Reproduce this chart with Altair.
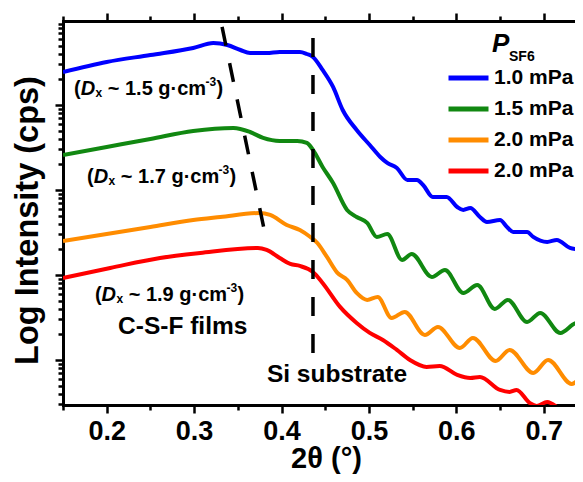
import altair as alt
import pandas as pd

# ---------------- data ----------------
SERIES_KEYS = ["p10", "p15", "p20a", "p20b"]
SERIES_LABELS = ["1.0 mPa", "1.5 mPa", "2.0 mPa", "2.0 mPa"]
SERIES_COLORS = ["#0000FF", "#118811", "#FF8C00", "#FF0000"]

BLUE_2THETA = [0.150, 0.200, 0.250, 0.299, 0.322, 0.338, 0.353, 0.364, 0.383, 0.398, 0.413,
               0.421, 0.429, 0.436, 0.447, 0.459, 0.470, 0.486, 0.501, 0.513, 0.521, 0.532,
               0.544, 0.555, 0.562, 0.573, 0.589, 0.601, 0.608, 0.616, 0.627, 0.635, 0.650,
               0.658, 0.665, 0.681, 0.688, 0.704, 0.715, 0.730, 0.745]
BLUE_LOGI = [4.388, 4.506, 4.588, 4.671, 4.729, 4.706, 4.647, 4.612, 4.612, 4.624, 4.624,
             4.624, 4.600, 4.565, 4.412, 4.212, 3.941, 3.706, 3.529, 3.388, 3.318, 3.259,
             3.118, 3.118, 3.059, 2.918, 2.918, 2.800, 2.765, 2.788, 2.682, 2.624, 2.647,
             2.565, 2.506, 2.506, 2.447, 2.388, 2.412, 2.318, 2.294]

GREEN_2THETA = [0.150, 0.200, 0.250, 0.299, 0.345, 0.364, 0.379, 0.398, 0.418, 0.429, 0.436,
                0.447, 0.459, 0.475, 0.486, 0.498, 0.509, 0.521, 0.538, 0.549, 0.572, 0.587,
                0.608, 0.624, 0.644, 0.659, 0.681, 0.696, 0.719, 0.738, 0.745]
GREEN_LOGI = [3.412, 3.506, 3.600, 3.694, 3.729, 3.682, 3.612, 3.576, 3.576, 3.553, 3.471,
              3.271, 3.082, 2.765, 2.682, 2.612, 2.447, 2.482, 2.176, 2.247, 1.976, 2.059,
              1.788, 1.882, 1.600, 1.706, 1.447, 1.553, 1.318, 1.435, 1.376]

ORANGE_2THETA = [0.150, 0.200, 0.250, 0.299, 0.330, 0.375, 0.387, 0.406, 0.421, 0.433, 0.441,
                 0.452, 0.464, 0.475, 0.486, 0.498, 0.510, 0.526, 0.541, 0.564, 0.579, 0.604,
                 0.619, 0.645, 0.661, 0.688, 0.705, 0.732, 0.745]
ORANGE_LOGI = [2.400, 2.482, 2.565, 2.647, 2.682, 2.729, 2.706, 2.588, 2.529, 2.447, 2.376,
               2.212, 2.024, 1.941, 1.788, 1.706, 1.741, 1.494, 1.565, 1.294, 1.388, 1.141,
               1.259, 0.988, 1.118, 0.847, 1.000, 0.718, 0.835]

RED_2THETA = [0.150, 0.204, 0.261, 0.307, 0.373, 0.383, 0.398, 0.410, 0.421, 0.436, 0.447,
              0.467, 0.486, 0.501, 0.516, 0.532, 0.547, 0.566, 0.581, 0.601, 0.616, 0.627,
              0.650, 0.661, 0.669, 0.684, 0.692, 0.704, 0.715, 0.730]
RED_LOGI = [1.965, 2.082, 2.200, 2.259, 2.318, 2.294, 2.200, 2.129, 2.106, 2.035, 1.906,
            1.624, 1.435, 1.318, 1.235, 1.118, 1.000, 0.918, 0.929, 0.824, 0.788, 0.800,
            0.647, 0.624, 0.647, 0.494, 0.459, 0.506, 0.447, 0.294]

# dashed guide lines (2theta, log intensity)
DASH_X1 = [0.436, 0.332]
DASH_X2 = [0.436, 0.380]
DASH_Y1 = [4.788, 4.918]
DASH_Y2 = [1.080, 2.541]

# density annotations
ANN_2THETA = [0.1625, 0.1775, 0.1865]
ANN_LOGI = [4.188, 3.153, 1.765]
ANN_DENS = ["1.5", "1.7", "1.9"]

X_MAJOR = [0.2, 0.3, 0.4, 0.5, 0.6, 0.7]
X_MINOR = [0.15, 0.25, 0.35, 0.45, 0.55, 0.65]
Y_MAJOR = [10, 100, 1000, 10000]
Y_MINOR = [3, 4, 5, 6, 7, 8, 9,
           20, 30, 40, 50, 60, 70, 80, 90,
           200, 300, 400, 500, 600, 700, 800, 900,
           2000, 3000, 4000, 5000, 6000, 7000, 8000, 9000,
           20000, 30000, 40000, 50000, 60000, 70000, 80000, 90000]

FONT = "Liberation Sans"

# ---------------- tables ----------------
rows = []
for key, xs, ys in zip(SERIES_KEYS,
                       [BLUE_2THETA, GREEN_2THETA, ORANGE_2THETA, RED_2THETA],
                       [BLUE_LOGI, GREEN_LOGI, ORANGE_LOGI, RED_LOGI]):
    for xv, yv in zip(xs, ys):
        rows.append({"series": key, "two_theta": xv, "intensity": 10 ** yv})
curves = pd.DataFrame(rows)

dashes = pd.DataFrame({"x1": DASH_X1, "x2": DASH_X2,
                       "y1": [10 ** v for v in DASH_Y1], "y2": [10 ** v for v in DASH_Y2]})

ann = pd.DataFrame({"t": ANN_2THETA, "i": [10 ** v for v in ANN_LOGI],
                    "rest": [f"~ {d} g\u00b7cm" for d in ANN_DENS]})

labels_main = pd.DataFrame({"t": [0.287, 0.4635], "i": [10 ** 1.388, 10 ** 0.82],
                            "txt": ["C-S-F films", "Si substrate"]})
p_label = pd.DataFrame({"t": [0.6408], "i": [10 ** 4.718]})
sf6_label = pd.DataFrame({"t": [0.6603], "i": [10 ** 4.565]})

# ---------------- scales & axes ----------------
x_scale = alt.Scale(domain=[0.15, 0.7358], nice=False, zero=False)
y_scale = alt.Scale(type="log", domain=[2.95, 97300], nice=False)

base_axis = dict(domainColor="black", domainWidth=3, domainCap="square", tickColor="black",
                 tickWidth=2.5, grid=False)

x_bottom_major = alt.Axis(orient="bottom", values=X_MAJOR, format=".1f", tickSize=8,
                          labelFontSize=27, labelFontWeight="bold", labelColor="black",
                          labelFont=FONT, labelPadding=5, labelOverlap=False, labelFlush=False,
                          title="2\u03b8 (\u00b0)", titleFontSize=29, titleFontWeight="bold",
                          titleColor="black", titleFont=FONT, titleX=263, titleY=39,
                          titleBaseline="top", titleAlign="center", **base_axis)
x_bottom_minor = alt.Axis(orient="bottom", values=X_MINOR, tickSize=5, labels=False,
                          title=None, domain=False, tickColor="black", tickWidth=2.5, grid=False)
x_top_major = alt.Axis(orient="top", values=X_MAJOR, tickSize=8, labels=False, title=None,
                       **base_axis)
x_top_minor = alt.Axis(orient="top", values=X_MINOR, tickSize=5, labels=False, title=None,
                       domain=False, tickColor="black", tickWidth=2.5, grid=False)
y_left_major = alt.Axis(orient="left", values=Y_MAJOR, tickSize=8, labels=False,
                        title="Log Intensity (cps)", titleFontSize=32.5, titleFontWeight="bold",
                        titleColor="black", titleFont=FONT, titleX=-19, titleY=199,
                        titleAngle=270, titleBaseline="bottom", titleAlign="center",
                        **base_axis)
y_left_minor = alt.Axis(orient="left", values=Y_MINOR, tickSize=5, labels=False, title=None,
                        domain=False, tickColor="black", tickWidth=2.5, grid=False)

label_map = "{" + ",".join(f"'{k}':'{v}'" for k, v in zip(SERIES_KEYS, SERIES_LABELS)) + "}"

lines = alt.Chart(curves).mark_line(strokeWidth=4, clip=True, interpolate="monotone").encode(
    x=alt.X("two_theta:Q", scale=x_scale, axis=x_bottom_major),
    y=alt.Y("intensity:Q", scale=y_scale, axis=y_left_major),
    color=alt.Color("series:N", scale=alt.Scale(domain=SERIES_KEYS, range=SERIES_COLORS),
                    legend=alt.Legend(orient="none", legendX=383, legendY=44, title=None,
                                      symbolType="stroke", symbolSize=1600, symbolStrokeWidth=5,
                                      labelFontSize=21, labelFontWeight="bold", labelFont=FONT,
                                      labelColor="black", labelOffset=3, rowPadding=5,
                                      clipHeight=26, padding=0, labelLimit=300,
                                      labelExpr=f"{label_map}[datum.value]")),
)

dash_layer = alt.Chart(dashes).mark_rule(strokeDash=[19, 18], strokeWidth=3.5, color="black").encode(
    x=alt.X("x1:Q", scale=x_scale, axis=x_top_major),
    x2="x2:Q",
    y=alt.Y("y1:Q", scale=y_scale, axis=y_left_minor),
    y2="y2:Q",
)


def txt_base(df, xaxis=None):
    return alt.Chart(df).encode(
        x=alt.X("t:Q", scale=x_scale, axis=xaxis),
        y=alt.Y("i:Q", scale=y_scale, axis=None),
    )


tb = dict(align="left", baseline="middle", font=FONT, fontWeight="bold", color="black")
a_base = txt_base(ann)
ann_layers = [
    a_base.mark_text(fontSize=20, dx=0, **tb).encode(text=alt.value("(")),
    a_base.mark_text(fontSize=20, dx=6.7, fontStyle="italic", **tb).encode(text=alt.value("D")),
    a_base.mark_text(fontSize=12, dx=21.5, dy=4, **tb).encode(text=alt.value("x")),
    a_base.mark_text(fontSize=20, dx=33.8, **tb).encode(text="rest:N"),
    a_base.mark_text(fontSize=12, dx=131.5, dy=-7, **tb).encode(text=alt.value("-3")),
    a_base.mark_text(fontSize=20, dx=142.5, **tb).encode(text=alt.value(")")),
]

main_labels = txt_base(labels_main, x_bottom_minor).mark_text(
    align="center", baseline="middle", font=FONT, fontWeight="bold", fontSize=24.5, color="black"
).encode(text="txt:N")

p_layer = txt_base(p_label, x_top_minor).mark_text(fontSize=26, fontStyle="italic", **tb).encode(
    text=alt.value("P"))
sf6_layer = txt_base(sf6_label).mark_text(fontSize=14, **tb).encode(text=alt.value("SF6"))

chart = alt.layer(lines, dash_layer, *ann_layers, main_labels, p_layer, sf6_layer).resolve_axis(
    x="independent", y="independent"
).properties(
    width=512, height=384,
    autosize=alt.AutoSizeParams(type="none"),
    padding={"left": 55, "top": 13, "right": 0, "bottom": 69},
).configure_view(stroke=None).configure(font=FONT)

chart.save("out.html", embed_options={"renderer": "svg", "actions": False})
